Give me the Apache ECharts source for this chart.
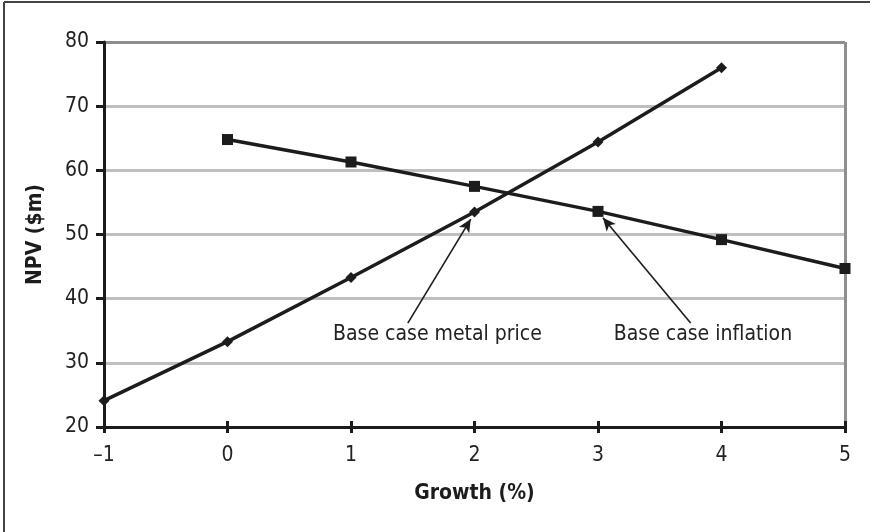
<!DOCTYPE html>
<html>
<head>
<meta charset="utf-8">
<script src="https://cdn.jsdelivr.net/npm/echarts@6/dist/echarts.min.js"></script>
<style>
  html, body { margin: 0; padding: 0; background: #fff; }
  #chart { width: 870px; height: 532px; }
</style>
</head>
<body>
<div id="chart"></div>
<script>
// Growth rates (%) on the horizontal axis
const growthTicks = [-1, 0, 1, 2, 3, 4, 5];
// NPV ($m) when the metal price growth rate varies
const metalGrowth = [-1, 0, 1, 2, 3, 4];
const metalNpv = [24.1, 33.3, 43.3, 53.5, 64.4, 76.0];
// NPV ($m) when the inflation rate varies
const inflationGrowth = [0, 1, 2, 3, 4, 5];
const inflationNpv = [64.8, 61.3, 57.5, 53.6, 49.2, 44.7];
// Vertical axis ticks
const npvTicks = [20, 30, 40, 50, 60, 70, 80];

const FONT = '"Liberation Sans Narrow", "DejaVu Sans Condensed", "Liberation Sans", sans-serif';
const INK = '#1c1c1c';

const chart = echarts.init(document.getElementById('chart'), null, { renderer: 'canvas' });

const pairs = (xs, ys) => xs.map((x, i) => [x, ys[i]]);
const dash = v => String(v).replace('-', '\u2013');

// Gridline colours: light grey inside, darker grey along the top edge
const ySplitColors = npvTicks.map((t, i) => i === npvTicks.length - 1 ? '#8e8e8e' : '#bfbfbf');
const xSplitColors = growthTicks.map((t, i) => i === growthTicks.length - 1 ? '#8e8e8e' : 'rgba(0,0,0,0)');

function arrow(from, to) {
  return [
    { coord: from, symbol: 'none' },
    { coord: to, symbol: 'arrow' }
  ];
}

chart.setOption({
  animation: false,
  backgroundColor: '#fff',
  grid: { left: 104, right: 25, top: 42, bottom: 105, containLabel: false },
  xAxis: [
    {
      type: 'value',
      min: growthTicks[0],
      max: growthTicks[growthTicks.length - 1],
      interval: 1,
      name: 'Growth (%)',
      nameLocation: 'middle',
      nameGap: 56,
      nameTextStyle: { fontFamily: FONT, fontSize: 21, fontWeight: 'bold', color: INK },
      axisLine: { show: true, onZero: false, lineStyle: { color: INK, width: 3 } },
      axisTick: { show: true, length: 6, lineStyle: { color: INK, width: 3 } },
      axisLabel: { margin: 18, fontFamily: FONT, fontSize: 21, color: '#222', formatter: dash },
      splitLine: { show: true, lineStyle: { color: xSplitColors, width: 3 } }
    },
    {
      // mirror axis so the ticks cross the baseline
      type: 'value',
      position: 'bottom',
      min: growthTicks[0],
      max: growthTicks[growthTicks.length - 1],
      interval: 1,
      axisLine: { show: false, onZero: false },
      axisTick: { show: true, inside: true, length: 6, lineStyle: { color: INK, width: 3 } },
      axisLabel: { show: false },
      splitLine: { show: false }
    }
  ],
  yAxis: {
    type: 'value',
    min: npvTicks[0],
    max: npvTicks[npvTicks.length - 1],
    interval: 10,
    name: 'NPV ($m)',
    nameLocation: 'middle',
    nameGap: 58,
    nameRotate: 90,
    nameTextStyle: { fontFamily: FONT, fontSize: 21, fontWeight: 'bold', color: INK },
    axisLine: { show: true, onZero: false, lineStyle: { color: INK, width: 3 } },
    axisTick: { show: true, length: 8, lineStyle: { color: INK, width: 3 } },
    axisLabel: { margin: 15, fontFamily: FONT, fontSize: 21, color: '#222' },
    splitLine: { show: true, lineStyle: { color: ySplitColors, width: 3 } }
  },
  series: [
    {
      name: 'Metal price',
      type: 'line',
      data: pairs(metalGrowth, metalNpv),
      symbol: 'diamond',
      symbolSize: 11,
      lineStyle: { color: INK, width: 3.5 },
      itemStyle: { color: INK },
      z: 3,
      markLine: {
        silent: true,
        symbolSize: [9, 13],
        lineStyle: { color: INK, width: 1.6, type: 'solid' },
        label: { show: false },
        data: [arrow([1.46, 36.2], [1.97, 52.4])]
      }
    },
    {
      name: 'Inflation',
      type: 'line',
      data: pairs(inflationGrowth, inflationNpv),
      symbol: 'rect',
      symbolSize: 11,
      lineStyle: { color: INK, width: 3.5 },
      itemStyle: { color: INK },
      z: 3,
      markLine: {
        silent: true,
        symbolSize: [9, 13],
        lineStyle: { color: INK, width: 1.6, type: 'solid' },
        label: { show: false },
        data: [arrow([3.75, 36.2], [3.04, 52.6])]
      }
    }
  ]
});

// Annotation captions placed in data coordinates
const captions = [
  { text: 'Base case metal price', at: [1.70, 34.4] },
  { text: 'Base case inflation', at: [3.85, 34.4] }
];
const captionGraphics = captions.map(c => {
  const p = chart.convertToPixel({ gridIndex: 0 }, c.at);
  return {
    type: 'text',
    x: p[0], y: p[1],
    style: {
      text: c.text, fontFamily: FONT, fontSize: 21, fill: '#222',
      align: 'center', verticalAlign: 'middle'
    },
    z: 10
  };
});

// Outer frame (top and left edges)
chart.setOption({
  graphic: captionGraphics.concat([
    { type: 'line', shape: { x1: 4, y1: 2, x2: 870, y2: 2 }, style: { stroke: '#444', lineWidth: 2 } },
    { type: 'line', shape: { x1: 4, y1: 2, x2: 4, y2: 532 }, style: { stroke: '#444', lineWidth: 2 } }
  ])
});
</script>
</body>
</html>
